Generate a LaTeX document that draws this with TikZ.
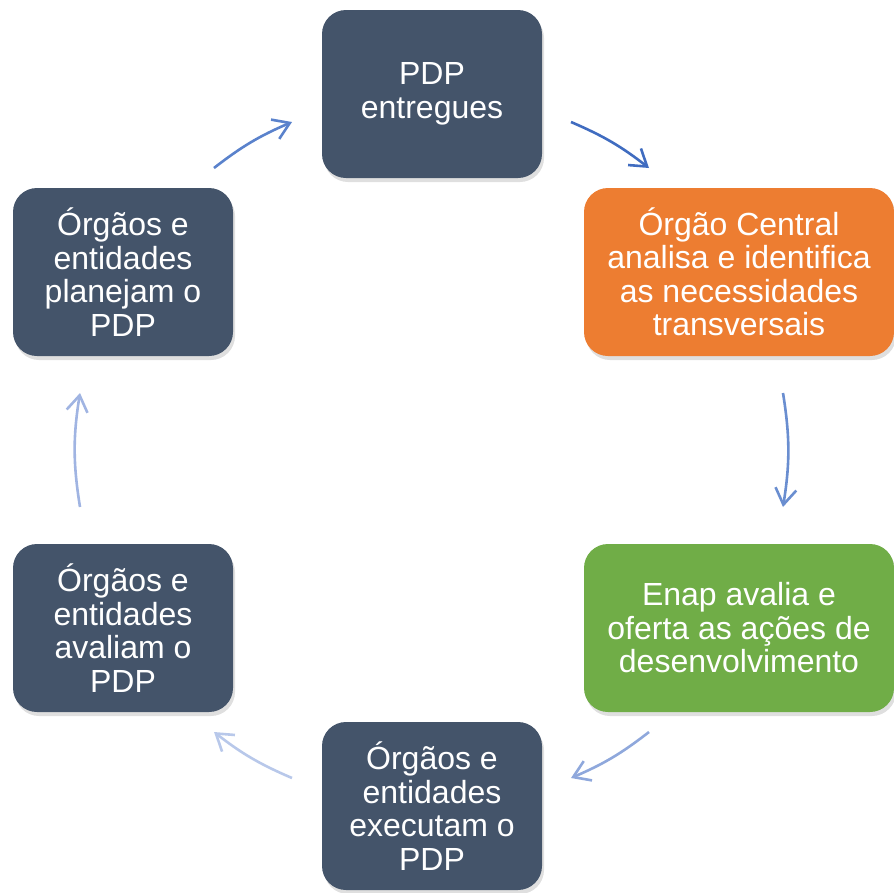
\documentclass[tikz,border=0pt]{standalone}
\usepackage{fontspec}
\setmainfont{Liberation Sans}
\usepackage{xcolor}
\usetikzlibrary{arrows.meta, positioning, calc, shadows}

\definecolor{slate}{HTML}{44546A}
\definecolor{orangebox}{HTML}{ED7D31}
\definecolor{greenbox}{HTML}{70AD47}

\begin{document}
\begin{tikzpicture}[x=1pt, y=1pt,
    box/.style={rectangle, rounded corners=24pt, fill=slate, text=white, align=center,
        minimum width=220pt, minimum height=168pt, inner sep=0pt,
        font=\fontsize{32}{33.5}\selectfont,
        drop shadow={shadow xshift=2pt, shadow yshift=-4pt, opacity=0.25}},
    widebox/.style={box, minimum width=310pt},
    cyc/.style={line width=2.6pt, -{Straight Barb[length=16pt, width=21pt]}}]
    \useasboundingbox (0,0) rectangle (894,-892);

    % Boxes
    \node[box] (entregues) at (432,-94) {PDP\\entregues};
    \node[widebox, fill=orangebox] (central) at (739,-272) {Órgão Central\\analisa e identifica\\as necessidades\\transversais};
    \node[widebox, fill=greenbox] (enap) at (739,-628) {Enap avalia e\\oferta as ações de\\desenvolvimento};
    \node[box] (executam) at (432,-806) {Órgãos e\\entidades\\executam o\\PDP};
    \node[box] (avaliam) at (123,-628) {Órgãos e\\entidades\\avaliam o\\PDP};
    \node[box] (planejam) at (123,-272) {Órgãos e\\entidades\\planejam o\\PDP};

    % Arrow ends on the cycle
    \coordinate (p1s) at (214,-168);  \coordinate (p1e) at (292,-122);
    \coordinate (p2s) at (571,-122);  \coordinate (p2e) at (649,-168);
    \coordinate (p3s) at (783,-393);  \coordinate (p3e) at (783,-507);
    \coordinate (p4s) at (649,-732);  \coordinate (p4e) at (571,-778);
    \coordinate (p5s) at (292,-778);  \coordinate (p5e) at (214,-732);
    \coordinate (p6s) at (80,-507);   \coordinate (p6e) at (80,-393);

    % Arrows
    \draw[cyc, color={rgb,255:red,90;green,130;blue,204}] (p1s) to[bend left=7.3] (p1e);
    \draw[cyc, color={rgb,255:red,64;green,108;blue,192}] (p2s) to[bend left=7.3] (p2e);
    \draw[cyc, color={rgb,255:red,106;green,142;blue,208}] (p3s) to[bend left=9.1] (p3e);
    \draw[cyc, color={rgb,255:red,143;green,168;blue,220}] (p4s) to[bend left=7.3] (p4e);
    \draw[cyc, color={rgb,255:red,184;green,200;blue,234}] (p5s) to[bend left=7.3] (p5e);
    \draw[cyc, color={rgb,255:red,160;green,180;blue,226}] (p6s) to[bend left=9.1] (p6e);
\end{tikzpicture}
\end{document}
